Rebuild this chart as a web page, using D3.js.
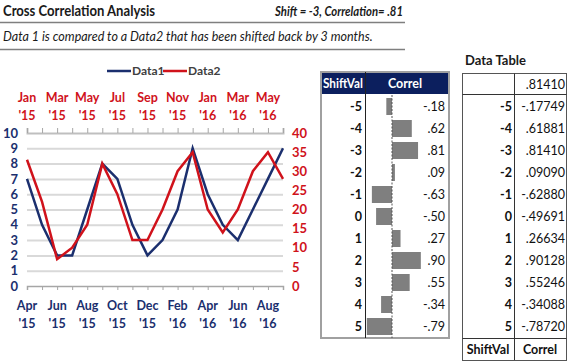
<!DOCTYPE html>
<html>
<head>
<meta charset="utf-8">
<script src="https://cdn.jsdelivr.net/npm/d3@7"></script>
<style>
  body { margin: 0; background: #fff; }
  svg { display: block; font-family: Lato, "Liberation Sans", sans-serif; }
</style>
</head>
<body>
<svg id="chart" width="573" height="362"></svg>
<script>
// chart data
const data1Months = ["Apr '15", "May '15", "Jun '15", "Jul '15", "Aug '15", "Sep '15", "Oct '15", "Nov '15", "Dec '15",
  "Jan '16", "Feb '16", "Mar '16", "Apr '16", "May '16", "Jun '16", "Jul '16", "Aug '16", "Sep '16"];
const data2Months = ["Jan '15", "Feb '15", "Mar '15", "Apr '15", "May '15", "Jun '15", "Jul '15", "Aug '15", "Sep '15",
  "Oct '15", "Nov '15", "Dec '15", "Jan '16", "Feb '16", "Mar '16", "Apr '16", "May '16", "Jun '16"];
const data1 = [7, 4, 2, 2, 5, 8, 7, 4, 2, 3, 5, 9, 6, 4, 3, 5, 7, 9];
const data2 = [33, 22, 7, 10, 16, 32, 24, 12, 12, 20, 30, 35, 20, 14, 20, 30, 35, 28];
const leftTicks = [0, 1, 2, 3, 4, 5, 6, 7, 8, 9, 10];
const rightTicks = [0, 5, 10, 15, 20, 25, 30, 35, 40];

// cross correlation table
const shiftVals = [-5, -4, -3, -2, -1, 0, 1, 2, 3, 4, 5];
const correls = [-0.17749, 0.61881, 0.81410, 0.09090, -0.62880, -0.49691, 0.26634, 0.90128, 0.55246, -0.34088, -0.78720];
const selectedCorrel = 0.81410;
const selectedShift = -3;

const navy = '#1b2f6e';
const red = '#d0121b';
const svg = d3.select('#chart');

// shrink a text node so it is no wider than w
const fit = (sel, w) => sel.each(function () {
  const len = this.getComputedTextLength();
  if (len > w) d3.select(this).attr('textLength', w).attr('lengthAdjust', 'spacingAndGlyphs');
});

// --- header ---
svg.append('text').attr('x', 3).attr('y', 16)
  .attr('font-size', 15.5).attr('font-weight', 'bold').attr('fill', '#1a1a1a')
  .text('Cross Correlation Analysis').call(fit, 152);
svg.append('text').attr('x', 403).attr('y', 16).attr('text-anchor', 'end')
  .attr('font-size', 13.5).attr('font-weight', 'bold').attr('font-style', 'italic').attr('fill', '#1a1a1a')
  .text('Shift = ' + selectedShift + ', Correlation= ' + d3.format('.2f')(selectedCorrel).replace('0.', '.'))
  .call(fit, 128);
svg.append('line').attr('x1', 0).attr('x2', 405).attr('y1', 22.5).attr('y2', 22.5)
  .attr('stroke', '#7f7f7f').attr('stroke-width', 1.5);
svg.append('text').attr('x', 3).attr('y', 41)
  .attr('font-size', 12.5).attr('font-style', 'italic').attr('fill', '#1a1a1a')
  .text('Data 1 is compared to a Data2 that has been shifted back by ' + Math.abs(selectedShift) + ' months.')
  .call(fit, 370);
svg.append('line').attr('x1', 0).attr('x2', 405).attr('y1', 49.5).attr('y2', 49.5)
  .attr('stroke', '#7f7f7f').attr('stroke-width', 1.5);

// --- line chart ---
const x = d3.scaleLinear().domain([0, data1.length - 1]).range([27, 283]);
const yL = d3.scaleLinear().domain([0, 10]).range([286, 133]);
const yR = d3.scaleLinear().domain([0, 40]).range([286, 133]);

const grid = svg.append('g')
  .attr('transform', 'translate(27,0)')
  .call(d3.axisLeft(yL).tickValues(leftTicks.slice(1, -1)).tickSize(-256).tickFormat(''));
grid.select('.domain').remove();
grid.selectAll('line').attr('stroke', '#d9d9d9').attr('stroke-width', 2);

// left axis labels
const gl = svg.append('g')
  .attr('transform', 'translate(18,0)')
  .call(d3.axisLeft(yL).tickValues(leftTicks).tickSize(0).tickPadding(0));
gl.select('.domain').remove();
gl.selectAll('text').attr('fill', navy).attr('font-size', 13).attr('font-weight', 'bold')
  .attr('font-family', 'Lato, sans-serif');

// right axis labels
const gr = svg.append('g')
  .attr('transform', 'translate(292,0)')
  .call(d3.axisRight(yR).tickValues(rightTicks).tickSize(0).tickPadding(0));
gr.select('.domain').remove();
gr.selectAll('text').attr('fill', red).attr('font-size', 13).attr('font-weight', 'bold')
  .attr('font-family', 'Lato, sans-serif');

// top axis (Data2 months)
const gt = svg.append('g')
  .attr('transform', 'translate(0,133)')
  .call(d3.axisTop(x).tickValues(d3.range(data2Months.length)).tickSize(5).tickFormat(''));
gt.select('.domain').attr('stroke', '#bfbfbf').attr('stroke-width', 2);
gt.selectAll('line').attr('stroke', '#a6a6a6');

// bottom axis (Data1 months)
const gb = svg.append('g')
  .attr('transform', 'translate(0,286)')
  .call(d3.axisBottom(x).tickValues(d3.range(data1Months.length)).tickSize(4).tickFormat(''));
gb.select('.domain').attr('stroke', '#a6a6a6').attr('stroke-width', 1.5);
gb.selectAll('line').attr('stroke', '#a6a6a6');

const monthLabel = (g, months, y0, color) => {
  const t = g.selectAll('text.m')
    .data(months.map((m, i) => ({ m, i })).filter(d => d.i % 2 === 0))
    .enter().append('text')
    .attr('class', 'm')
    .attr('text-anchor', 'middle')
    .attr('font-size', 12.5).attr('font-weight', 'bold').attr('fill', color);
  t.append('tspan').attr('x', d => x(d.i)).attr('y', y0).text(d => d.m.split(' ')[0]);
  t.append('tspan').attr('x', d => x(d.i)).attr('y', y0 + 18).text(d => d.m.split(' ')[1]);
};
monthLabel(svg.append('g'), data2Months, 102, red);
monthLabel(svg.append('g'), data1Months, 310, navy);

const line1 = d3.line().x((d, i) => x(i)).y(d => yL(d));
const line2 = d3.line().x((d, i) => x(i)).y(d => yR(d));
svg.append('path').datum(data1).attr('d', line1)
  .attr('fill', 'none').attr('stroke', navy).attr('stroke-width', 2.5);
svg.append('path').datum(data2).attr('d', line2)
  .attr('fill', 'none').attr('stroke', red).attr('stroke-width', 2.5);

// legend
const legend = svg.append('g').attr('font-size', 12).attr('font-weight', 'bold').attr('fill', '#404040');
[['Data1', navy, 107], ['Data2', red, 163]].forEach(([name, c, lx]) => {
  legend.append('line').attr('x1', lx).attr('x2', lx + 24).attr('y1', 71).attr('y2', 71)
    .attr('stroke', c).attr('stroke-width', 2.5);
  legend.append('text').attr('x', lx + 25).attr('y', 75).text(name);
});

// --- middle table with bars ---
const rowTop = 95, rowH = 22;
const rowY = d3.scaleBand().domain(shiftVals).range([rowTop, rowTop + rowH * shiftVals.length]);
const bx = d3.scaleLinear().domain([-1, 1]).range([360, 424]);

const mt = svg.append('g');
mt.append('rect').attr('x', 321).attr('y', 72).attr('width', 128).attr('height', 22)
  .attr('fill', '#0c1f5e');
mt.append('rect').attr('x', 321).attr('y', 72).attr('width', 128).attr('height', 266)
  .attr('fill', 'none').attr('stroke', '#a0a0a0').attr('stroke-width', 2);
mt.append('line').attr('x1', 365.5).attr('x2', 365.5).attr('y1', 72).attr('y2', 338)
  .attr('stroke', '#222').attr('stroke-width', 1);
mt.append('text').attr('x', 343).attr('y', 88).attr('text-anchor', 'middle')
  .attr('font-size', 12.5).attr('font-weight', 'bold').attr('fill', '#fff').text('ShiftVal')
  .call(fit, 40);
mt.append('text').attr('x', 405).attr('y', 88).attr('text-anchor', 'middle')
  .attr('font-size', 12.5).attr('font-weight', 'bold').attr('fill', '#fff').text('Correl');

mt.selectAll('rect.bar').data(correls).enter().append('rect')
  .attr('class', 'bar')
  .attr('x', d => Math.min(bx(0), bx(d)))
  .attr('width', d => Math.abs(bx(d) - bx(0)))
  .attr('y', (d, i) => rowY(shiftVals[i]) + 3)
  .attr('height', rowH - 5)
  .attr('fill', '#7f7f7f');
mt.append('line').attr('x1', bx(0)).attr('x2', bx(0)).attr('y1', 95).attr('y2', 338)
  .attr('stroke', '#555').attr('stroke-width', 1).attr('stroke-dasharray', '2,1.5');

const fmt2 = d => d3.format('.2f')(d).replace('0.', '.').replace('−', '-');
const fmt5 = d => d3.format('.5f')(d).replace('0.', '.').replace('−', '-');
mt.selectAll('text.sv').data(shiftVals).enter().append('text')
  .attr('x', 362).attr('y', d => rowY(d) + rowH / 2 + 5)
  .attr('text-anchor', 'end').attr('font-size', 12.5).attr('font-weight', 'bold').attr('fill', '#111')
  .text(d => d);
mt.selectAll('text.cv').data(correls).enter().append('text')
  .attr('x', 445).attr('y', (d, i) => rowY(shiftVals[i]) + rowH / 2 + 5)
  .attr('text-anchor', 'end').attr('font-size', 12.5).attr('fill', '#111')
  .text(d => fmt2(d));

// --- right data table ---
const dt = svg.append('g');
dt.append('text').attr('x', 465).attr('y', 65).attr('font-size', 13).attr('font-weight', 'bold')
  .attr('fill', '#1a1a1a').text('Data Table');
dt.append('rect').attr('x', 462.5).attr('y', 73.5).attr('width', 104).attr('height', 287)
  .attr('fill', 'none').attr('stroke', '#555').attr('stroke-width', 1);
dt.append('line').attr('x1', 514.5).attr('x2', 514.5).attr('y1', 73.5).attr('y2', 360)
  .attr('stroke', '#333');
dt.append('line').attr('x1', 462.5).attr('x2', 566.5).attr('y1', 94.5).attr('y2', 94.5)
  .attr('stroke', '#333');
dt.append('line').attr('x1', 462.5).attr('x2', 566.5).attr('y1', 338.5).attr('y2', 338.5)
  .attr('stroke', '#333');
dt.append('text').attr('x', 565).attr('y', 89).attr('text-anchor', 'end')
  .attr('font-size', 12.5).attr('fill', '#111').text(fmt5(selectedCorrel));
dt.selectAll('text.sv').data(shiftVals).enter().append('text')
  .attr('x', 512).attr('y', d => rowY(d) + rowH / 2 + 5)
  .attr('text-anchor', 'end').attr('font-size', 12.5).attr('font-weight', 'bold').attr('fill', '#111')
  .text(d => d);
dt.selectAll('text.cv').data(correls).enter().append('text')
  .attr('x', 565).attr('y', (d, i) => rowY(shiftVals[i]) + rowH / 2 + 5)
  .attr('text-anchor', 'end').attr('font-size', 12.5).attr('fill', '#111')
  .text(d => fmt5(d));
dt.append('text').attr('x', 488).attr('y', 354).attr('text-anchor', 'middle')
  .attr('font-size', 12.5).attr('font-weight', 'bold').attr('fill', '#111').text('ShiftVal');
dt.append('text').attr('x', 540).attr('y', 354).attr('text-anchor', 'middle')
  .attr('font-size', 12.5).attr('font-weight', 'bold').attr('fill', '#111').text('Correl');
</script>
</body>
</html>
